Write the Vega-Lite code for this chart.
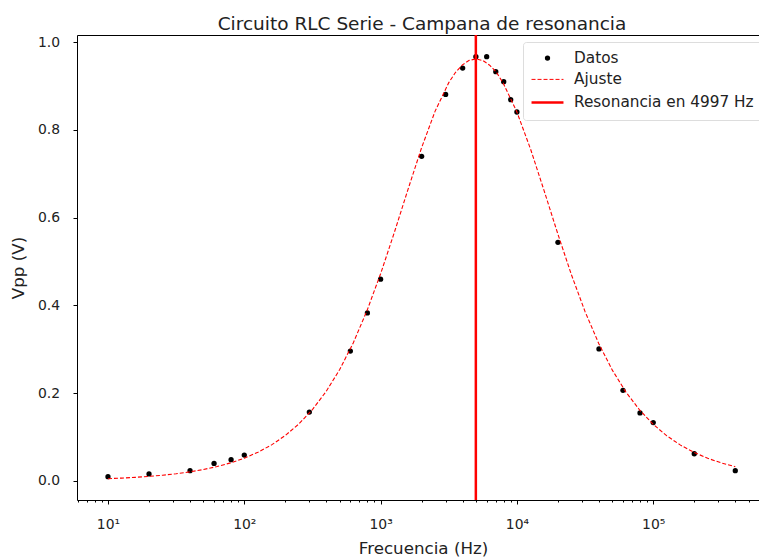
{
  "$schema": "https://vega.github.io/schema/vega-lite/v6.json",
  "width": 682,
  "height": 465,
  "autosize": "none",
  "padding": {"left": 77, "top": 35, "right": 0, "bottom": 58},
  "background": "white",
  "config": {
    "view": {"stroke": null},
    "font": "DejaVu Sans",
    "axis": {
      "domainColor": "black",
      "tickColor": "black",
      "labelColor": "#222222",
      "titleColor": "#222222",
      "labelFont": "DejaVu Sans",
      "titleFont": "DejaVu Sans",
      "labelFontSize": 13.9,
      "titleFontSize": 16.7,
      "titleFontWeight": "normal",
      "grid": false
    }
  },
  "title": {
    "text": "Circuito RLC Serie - Campana de resonancia",
    "font": "DejaVu Sans",
    "fontSize": 18.5,
    "fontWeight": "normal",
    "color": "#222222",
    "anchor": "middle",
    "frame": "group",
    "baseline": "alphabetic",
    "offset": -15,
    "dx": 4
  },
  "datasets": {
    "datos": [
      {"f": 10, "v": 0.0098, "serie": "Datos"},
      {"f": 20, "v": 0.016, "serie": "Datos"},
      {"f": 40, "v": 0.0235, "serie": "Datos"},
      {"f": 60, "v": 0.040, "serie": "Datos"},
      {"f": 80, "v": 0.0486, "serie": "Datos"},
      {"f": 100, "v": 0.059, "serie": "Datos"},
      {"f": 300, "v": 0.157, "serie": "Datos"},
      {"f": 600, "v": 0.296, "serie": "Datos"},
      {"f": 800, "v": 0.383, "serie": "Datos"},
      {"f": 1000, "v": 0.460, "serie": "Datos"},
      {"f": 2000, "v": 0.740, "serie": "Datos"},
      {"f": 3000, "v": 0.881, "serie": "Datos"},
      {"f": 4000, "v": 0.941, "serie": "Datos"},
      {"f": 5000, "v": 0.967, "serie": "Datos"},
      {"f": 6000, "v": 0.967, "serie": "Datos"},
      {"f": 7000, "v": 0.933, "serie": "Datos"},
      {"f": 8000, "v": 0.910, "serie": "Datos"},
      {"f": 9000, "v": 0.869, "serie": "Datos"},
      {"f": 10000, "v": 0.841, "serie": "Datos"},
      {"f": 20000, "v": 0.544, "serie": "Datos"},
      {"f": 40000, "v": 0.301, "serie": "Datos"},
      {"f": 60000, "v": 0.2066, "serie": "Datos"},
      {"f": 80000, "v": 0.155, "serie": "Datos"},
      {"f": 100000, "v": 0.133, "serie": "Datos"},
      {"f": 200000, "v": 0.062, "serie": "Datos"},
      {"f": 400000, "v": 0.0235, "serie": "Datos"}
    ],
    "ajuste": [
      {"f": 10, "v": 0.0052, "serie": "Ajuste"},
      {"f": 12.59, "v": 0.00655, "serie": "Ajuste"},
      {"f": 15.85, "v": 0.00824, "serie": "Ajuste"},
      {"f": 19.95, "v": 0.01038, "serie": "Ajuste"},
      {"f": 25.12, "v": 0.01307, "serie": "Ajuste"},
      {"f": 31.62, "v": 0.01645, "serie": "Ajuste"},
      {"f": 39.81, "v": 0.02071, "serie": "Ajuste"},
      {"f": 50.12, "v": 0.02607, "serie": "Ajuste"},
      {"f": 63.10, "v": 0.03281, "serie": "Ajuste"},
      {"f": 79.43, "v": 0.0413, "serie": "Ajuste"},
      {"f": 100, "v": 0.05198, "serie": "Ajuste"},
      {"f": 125.9, "v": 0.0654, "serie": "Ajuste"},
      {"f": 158.5, "v": 0.0822, "serie": "Ajuste"},
      {"f": 199.5, "v": 0.1034, "serie": "Ajuste"},
      {"f": 251.2, "v": 0.1298, "serie": "Ajuste"},
      {"f": 316.2, "v": 0.1628, "serie": "Ajuste"},
      {"f": 398.1, "v": 0.2038, "serie": "Ajuste"},
      {"f": 501.2, "v": 0.254, "serie": "Ajuste"},
      {"f": 631.0, "v": 0.3152, "serie": "Ajuste"},
      {"f": 794.3, "v": 0.3881, "serie": "Ajuste"},
      {"f": 1000, "v": 0.4722, "serie": "Ajuste"},
      {"f": 1259, "v": 0.5657, "serie": "Ajuste"},
      {"f": 1585, "v": 0.6636, "serie": "Ajuste"},
      {"f": 1995, "v": 0.7589, "serie": "Ajuste"},
      {"f": 2512, "v": 0.843, "serie": "Ajuste"},
      {"f": 3162, "v": 0.9079, "serie": "Ajuste"},
      {"f": 3548, "v": 0.9315, "serie": "Ajuste"},
      {"f": 3981, "v": 0.9484, "serie": "Ajuste"},
      {"f": 4467, "v": 0.9587, "serie": "Ajuste"},
      {"f": 5012, "v": 0.962, "serie": "Ajuste"},
      {"f": 5623, "v": 0.9583, "serie": "Ajuste"},
      {"f": 6310, "v": 0.9477, "serie": "Ajuste"},
      {"f": 7079, "v": 0.9315, "serie": "Ajuste"},
      {"f": 7943, "v": 0.9064, "serie": "Ajuste"},
      {"f": 10000, "v": 0.841, "serie": "Ajuste"},
      {"f": 12589, "v": 0.7566, "serie": "Ajuste"},
      {"f": 15849, "v": 0.6611, "serie": "Ajuste"},
      {"f": 19953, "v": 0.5632, "serie": "Ajuste"},
      {"f": 25119, "v": 0.4699, "serie": "Ajuste"},
      {"f": 31623, "v": 0.3859, "serie": "Ajuste"},
      {"f": 39811, "v": 0.3135, "serie": "Ajuste"},
      {"f": 50119, "v": 0.2526, "serie": "Ajuste"},
      {"f": 63096, "v": 0.2025, "serie": "Ajuste"},
      {"f": 79433, "v": 0.1618, "serie": "Ajuste"},
      {"f": 100000, "v": 0.1291, "serie": "Ajuste"},
      {"f": 125893, "v": 0.1028, "serie": "Ajuste"},
      {"f": 158489, "v": 0.0817, "serie": "Ajuste"},
      {"f": 199526, "v": 0.065, "serie": "Ajuste"},
      {"f": 251189, "v": 0.0517, "serie": "Ajuste"},
      {"f": 316228, "v": 0.0411, "serie": "Ajuste"},
      {"f": 398107, "v": 0.0326, "serie": "Ajuste"},
      {"f": 400000, "v": 0.0325, "serie": "Ajuste"}
    ],
    "resonancia": [
      {"f": 4997, "serie": "Resonancia en 4997 Hz"}
    ]
  },
  "resolve": {"axis": {"x": "independent"}},
  "layer": [
    {
      "data": {"name": "datos"},
      "mark": {"type": "point", "filled": true, "opacity": 1},
      "encoding": {
        "x": {
          "field": "f",
          "type": "quantitative",
          "scale": {"type": "log", "domain": [5.925, 597000], "nice": false},
          "axis": {
            "orient": "bottom",
            "values": [10, 100, 1000, 10000, 100000],
            "labelExpr": "datum.value == 10 ? '10¹' : datum.value == 100 ? '10²' : datum.value == 1000 ? '10³' : datum.value == 10000 ? '10⁴' : datum.value == 100000 ? '10⁵' : ''",
            "tickSize": 4,
            "labelPadding": 13,
            "labelBaseline": "top",
            "labelFlush": false,
            "labelOverlap": false,
            "title": "Frecuencia (Hz)",
            "titleX": 346,
            "titleY": 53,
            "titleBaseline": "alphabetic"
          }
        },
        "y": {
          "field": "v",
          "type": "quantitative",
          "scale": {"domain": [-0.0434, 1.0165], "nice": false, "zero": false},
          "axis": {
            "values": [0, 0.2, 0.4, 0.6, 0.8, 1.0],
            "format": ".1f",
            "tickSize": 4,
            "labelPadding": 13.5,
            "title": "Vpp (V)",
            "titleX": -58.5,
            "titleY": 232.5,
            "titleAngle": -90,
            "titleBaseline": "middle",
            "titleAlign": "center"
          }
        },
        "color": {
          "field": "serie",
          "type": "nominal",
          "scale": {
            "domain": ["Datos", "Ajuste", "Resonancia en 4997 Hz"],
            "range": ["black", "red", "red"]
          },
          "legend": {
            "title": null,
            "orient": "none",
            "legendX": 446,
            "legendY": 7,
            "padding": 8.4,
            "rowPadding": 5,
            "symbolOffset": 7.1,
            "labelOffset": 17.5,
            "labelFont": "DejaVu Sans",
            "labelFontSize": 15.3,
            "labelColor": "#222222",
            "labelLimit": 400,
            "fillColor": "white",
            "strokeColor": "#dddddd",
            "cornerRadius": 3,
            "symbolOpacity": 1
          }
        },
        "shape": {
          "field": "serie",
          "type": "nominal",
          "scale": {
            "domain": ["Datos", "Ajuste", "Resonancia en 4997 Hz"],
            "range": ["circle", "M-2.13,0H2.13", "M-2.13,0H2.13"]
          }
        },
        "size": {
          "field": "serie",
          "type": "nominal",
          "scale": {
            "type": "ordinal",
            "domain": ["Datos", "Ajuste", "Resonancia en 4997 Hz"],
            "range": [28, 225, 225]
          }
        }
      }
    },
    {
      "data": {"name": "ajuste"},
      "mark": {"type": "line", "strokeWidth": 1.1},
      "encoding": {
        "x": {
          "field": "f",
          "type": "quantitative",
          "axis": {
            "orient": "bottom",
            "values": [6, 7, 8, 9, 20, 30, 40, 50, 60, 70, 80, 90, 200, 300, 400, 500, 600, 700, 800, 900, 2000, 3000, 4000, 5000, 6000, 7000, 8000, 9000, 20000, 30000, 40000, 50000, 60000, 70000, 80000, 90000, 200000, 300000, 400000, 500000],
            "tickSize": 2,
            "labels": false,
            "domain": false,
            "title": null
          }
        },
        "y": {"field": "v", "type": "quantitative"},
        "color": {"field": "serie", "type": "nominal"},
        "strokeDash": {
          "field": "serie",
          "type": "nominal",
          "scale": {
            "domain": ["Datos", "Ajuste", "Resonancia en 4997 Hz"],
            "range": [[1, 0], [4, 2], [1, 0]]
          }
        }
      }
    },
    {
      "data": {"name": "resonancia"},
      "mark": {"type": "rule"},
      "encoding": {
        "x": {
          "field": "f",
          "type": "quantitative",
          "axis": {
            "orient": "top",
            "labels": false,
            "ticks": false,
            "domain": true,
            "title": null
          }
        },
        "color": {"field": "serie", "type": "nominal"},
        "strokeWidth": {
          "field": "serie",
          "type": "nominal",
          "scale": {
            "type": "ordinal",
            "domain": ["Datos", "Ajuste", "Resonancia en 4997 Hz"],
            "range": [0, 1, 2.5]
          }
        }
      }
    }
  ]
}
